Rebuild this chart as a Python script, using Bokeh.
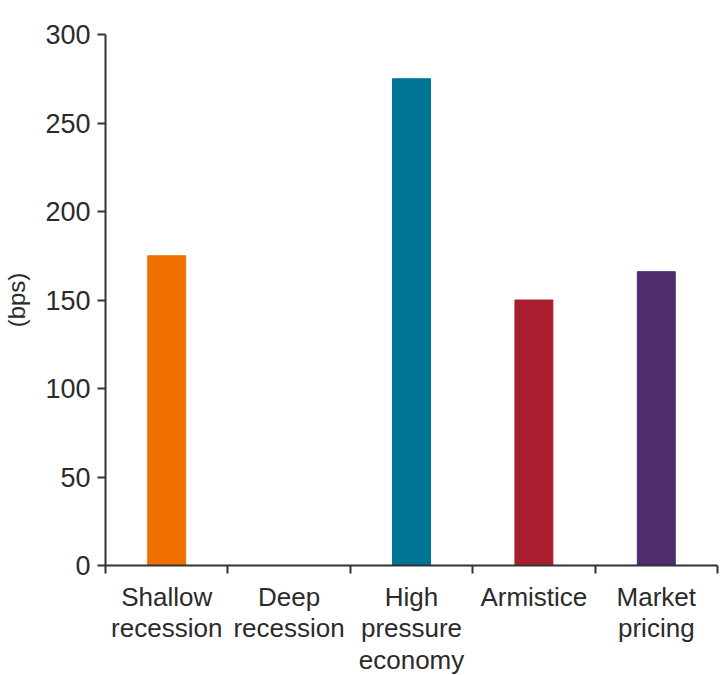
from bokeh.plotting import figure
from bokeh.models import FixedTicker, Range1d, ColumnDataSource
from bokeh.embed import file_html
from bokeh.resources import INLINE

categories = ["Shallow\nrecession", "Deep\nrecession", "High\npressure\neconomy", "Armistice", "Market\npricing"]
values = [175, 0, 275, 150, 166]
colors = ["#F07000", "#A0A0A0", "#007494", "#A91E2F", "#4F2D6B"]
y_ticks = [0, 50, 100, 150, 200, 250, 300]

xs = [i + 0.5 for i in range(len(categories))]
src = ColumnDataSource(dict(x=xs, top=values, color=colors))

p = figure(frame_width=612, frame_height=531, output_backend="svg", toolbar_location=None,
           x_range=Range1d(0, len(categories)), y_range=Range1d(0, 300),
           min_border_left=103, min_border_right=3, min_border_top=34, min_border_bottom=60)

p.vbar(x="x", top="top", width=0.31, color="color", source=src)

p.xgrid.visible = False
p.ygrid.visible = False
p.outline_line_color = None

ax = p.xaxis[0]
ax.ticker = FixedTicker(ticks=xs, minor_ticks=list(range(len(categories) + 1)))
ax.major_label_overrides = {x: c for x, c in zip(xs, categories)}
ax.major_tick_out = 0
ax.major_tick_in = 0
ax.minor_tick_out = 8
ax.minor_tick_in = 0
ax.minor_tick_line_color = "#333333"
ax.minor_tick_line_width = 2
ax.axis_line_color = "#333333"
ax.axis_line_width = 2
ax.major_label_text_font = "Liberation Sans"
ax.major_label_text_font_size = "26px"
ax.major_label_text_color = "#2b2b2b"
ax.major_label_text_line_height = 1.05
ax.major_label_standoff = 8

ay = p.yaxis[0]
ay.ticker = FixedTicker(ticks=y_ticks)
ay.minor_tick_line_color = None
ay.major_tick_out = 8
ay.major_tick_in = 0
ay.major_tick_line_color = "#333333"
ay.major_tick_line_width = 2
ay.axis_line_color = "#333333"
ay.axis_line_width = 2
ay.major_label_text_font = "Liberation Sans"
ay.major_label_text_font_size = "27px"
ay.major_label_text_color = "#2b2b2b"
ay.major_label_standoff = 7
ay.axis_label = "(bps)"
ay.axis_label_text_font = "Liberation Sans"
ay.axis_label_text_font_size = "24px"
ay.axis_label_text_font_style = "normal"
ay.axis_label_text_color = "#2b2b2b"
ay.axis_label_standoff = 12

open("out.html", "w").write(file_html(p, INLINE))
